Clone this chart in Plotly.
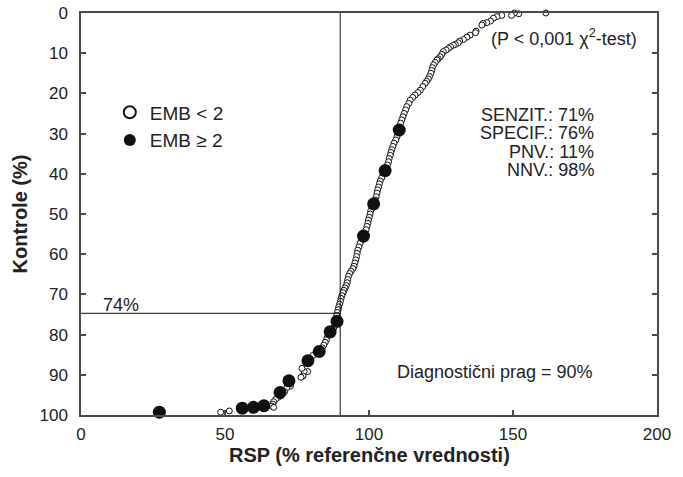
import plotly.graph_objects as go

# ---- data ----
# Controls: EMB < 2 (open circles)
open_x = [161.4, 152.0, 150.5, 149.5, 146.1, 144.4, 143.2, 142.2, 140.9, 139.6,
          139.2, 137.2, 137.0, 135.1, 134.0, 132.8, 131.5, 131.0, 130.0, 129.3,
          128.3, 127.6, 126.8, 125.8, 125.3, 124.7, 124.0, 123.6, 123.0, 122.4,
          122.0, 121.8, 121.5, 121.0, 120.6, 120.0, 119.5, 118.7, 117.8, 117.0,
          116.0, 115.2, 114.3, 113.8, 113.1, 112.7, 112.2, 111.8, 111.4, 111.0,
          110.0, 109.7, 109.3, 108.7, 108.3, 107.9, 107.6, 107.4, 107.0, 106.8,
          106.4, 104.9, 104.4, 103.9, 103.6, 103.3, 103.0, 102.8, 102.5, 102.1,
          101.0, 100.6, 100.4, 100.1, 99.8, 99.6, 99.3, 99.0, 97.4, 96.9,
          96.5, 96.1, 95.9, 95.7, 95.4, 95.1, 94.8, 94.4, 93.8, 93.3,
          92.9, 92.6, 92.4, 92.1, 91.7, 91.3, 91.0, 90.6, 90.3, 90.1,
          89.8, 89.5, 89.3, 89.0, 88.8, 88.3, 87.8, 85.6, 85.2, 84.8,
          84.3, 83.8, 80.5, 79.4, 78.7, 77.5, 76.7, 77.1, 76.4, 72.7,
          71.5, 70.7, 69.5, 68.5, 67.6, 66.9, 66.6, 66.3, 66.9, 51.5,
          48.5]
open_y = [0.0, 0.2, 0.0, 0.6, 0.6, 0.9, 1.3, 2.0, 2.4, 2.6,
          3.0, 4.5, 4.9, 5.5, 6.0, 6.6, 7.0, 7.4, 7.8, 8.0,
          8.4, 8.8, 9.2, 9.6, 10.3, 10.9, 11.4, 11.7, 12.3, 12.9,
          13.6, 14.3, 15.0, 15.8, 16.4, 17.0, 17.5, 18.3, 19.2, 19.8,
          20.4, 21.0, 21.7, 22.5, 23.3, 24.1, 25.0, 25.8, 26.6, 27.4,
          30.2, 30.8, 31.6, 32.4, 33.2, 34.0, 34.7, 35.4, 36.2, 37.0,
          37.8, 40.2, 41.0, 41.8, 42.5, 43.3, 44.0, 44.8, 45.7, 46.5,
          48.5, 49.2, 50.0, 50.8, 51.5, 52.3, 53.1, 53.9, 56.6, 57.3,
          58.2, 59.0, 59.8, 60.6, 61.4, 62.2, 63.0, 63.6, 64.2, 64.8,
          65.5, 66.3, 67.1, 67.8, 68.4, 69.0, 69.6, 70.3, 71.0, 71.7,
          72.4, 73.1, 73.8, 74.5, 75.2, 77.6, 78.3, 80.6, 81.3, 81.9,
          82.6, 83.3, 85.2, 85.9, 89.2, 89.2, 88.4, 90.3, 90.6, 92.8,
          93.2, 94.2, 95.2, 95.6, 96.1, 96.7, 97.3, 97.8, 98.1, 99.0,
          99.3]

# Patients: EMB >= 2 (filled circles)
fill_x = [27.2, 56.0, 59.9, 63.5, 69.1, 72.2, 78.8, 82.7, 86.5, 88.9,
          98.1, 101.6, 105.6, 110.5]
fill_y = [99.3, 98.3, 98.1, 97.7, 94.4, 91.5, 86.5, 84.2, 79.3, 76.7,
          55.5, 47.5, 39.2, 29.1]

threshold_rsp = 90        # diagnostic threshold (%)
specificity_level = 74.7  # level read at the threshold
x_ticks = [0, 50, 100, 150, 200]
y_ticks = [0, 10, 20, 30, 40, 50, 60, 70, 80, 90, 100]

stats_lines = ["SENZIT.: 71%", "SPECIF.: 76%", "PNV.: 11%", "NNV.: 98%"]
stats_y = [25.4, 29.9, 34.5, 39.0]

FONT = "Liberation Sans, Arial, sans-serif"
TXT = "#222222"
AX = "#4a4a4a"

fig = go.Figure()
fig.add_trace(go.Scatter(
    x=open_x, y=open_y, mode="markers", name="EMB &lt; 2",
    marker=dict(symbol="circle", size=6, color="white",
                line=dict(color="#111111", width=1)),
    cliponaxis=False, legendgroup="a"))
fig.add_trace(go.Scatter(
    x=fill_x, y=fill_y, mode="markers", name="EMB ≥ 2",
    marker=dict(symbol="circle", size=13, color="#111111",
                line=dict(color="#111111", width=0)),
    cliponaxis=False, legendgroup="b"))

# reference lines
fig.add_shape(type="line", x0=threshold_rsp, x1=threshold_rsp, y0=0, y1=100,
              xref="x", yref="y", line=dict(color="#111111", width=1))
fig.add_shape(type="line", x0=0, x1=threshold_rsp, y0=specificity_level,
              y1=specificity_level, xref="x", yref="y",
              line=dict(color="#111111", width=1))

ann = []
ann.append(dict(x=13.8, y=72.6, text="74%", showarrow=False,
                font=dict(size=18, color=TXT, family=FONT),
                xanchor="center", yanchor="middle"))
ann.append(dict(x=141.7, y=6.0, text="(P &lt; 0,001 χ<sup>2</sup>-test)",
                showarrow=False, font=dict(size=18, color=TXT, family=FONT),
                xanchor="left", yanchor="middle"))
for t, yy in zip(stats_lines, stats_y):
    ann.append(dict(x=178.9, y=yy, text=t, showarrow=False,
                    font=dict(size=18, color=TXT, family=FONT),
                    xanchor="right", yanchor="middle"))
ann.append(dict(x=178.5, y=89.2, text="Diagnostični prag = 90%",
                showarrow=False, font=dict(size=18, color=TXT, family=FONT),
                xanchor="right", yanchor="middle"))
# x-axis title
ann.append(dict(x=0.5, y=-0.0995, xref="paper", yref="paper",
                text="<b>RSP (% referenčne vrednosti)</b>", showarrow=False,
                font=dict(size=20, color=TXT, family=FONT),
                xanchor="center", yanchor="middle"))

fig.update_layout(
    width=683, height=477,
    margin=dict(l=80.5, r=26, t=13, b=62, pad=0, autoexpand=False),
    paper_bgcolor="white", plot_bgcolor="white",
    font=dict(family=FONT, color=TXT, size=17),
    annotations=ann,
    showlegend=True,
    legend=dict(x=0.050, y=0.80, xanchor="left", yanchor="top",
                bgcolor="rgba(0,0,0,0)", borderwidth=0,
                font=dict(size=19, color=TXT, family=FONT),
                itemsizing="constant", traceorder="grouped",
                tracegroupgap=0),
    xaxis=dict(range=[0, 200], tickvals=x_ticks, ticks="inside", ticklen=5,
               tickwidth=1.5, tickcolor=AX, showline=True, linecolor=AX,
               linewidth=1.5, mirror=True, showgrid=False, zeroline=False,
               automargin=False,
               tickfont=dict(size=17, color=TXT), ticklabelstandoff=3),
    yaxis=dict(range=[100, 0], tickvals=y_ticks, ticks="inside", ticklen=5,
               tickwidth=1.5, tickcolor=AX, showline=True, linecolor=AX,
               linewidth=1.5, mirror="ticks", showgrid=False, zeroline=False,
               automargin=False,
               tickfont=dict(size=17, color=TXT), ticklabelstandoff=8,
               title=dict(text="<b>Kontrole (%)</b>",
                          font=dict(size=20, color=TXT), standoff=6)),
)

fig.write_html(
    "out.html",
    config={"displayModeBar": False},
    post_script="document.body.style.margin='0';document.body.style.overflow='hidden';",
)
